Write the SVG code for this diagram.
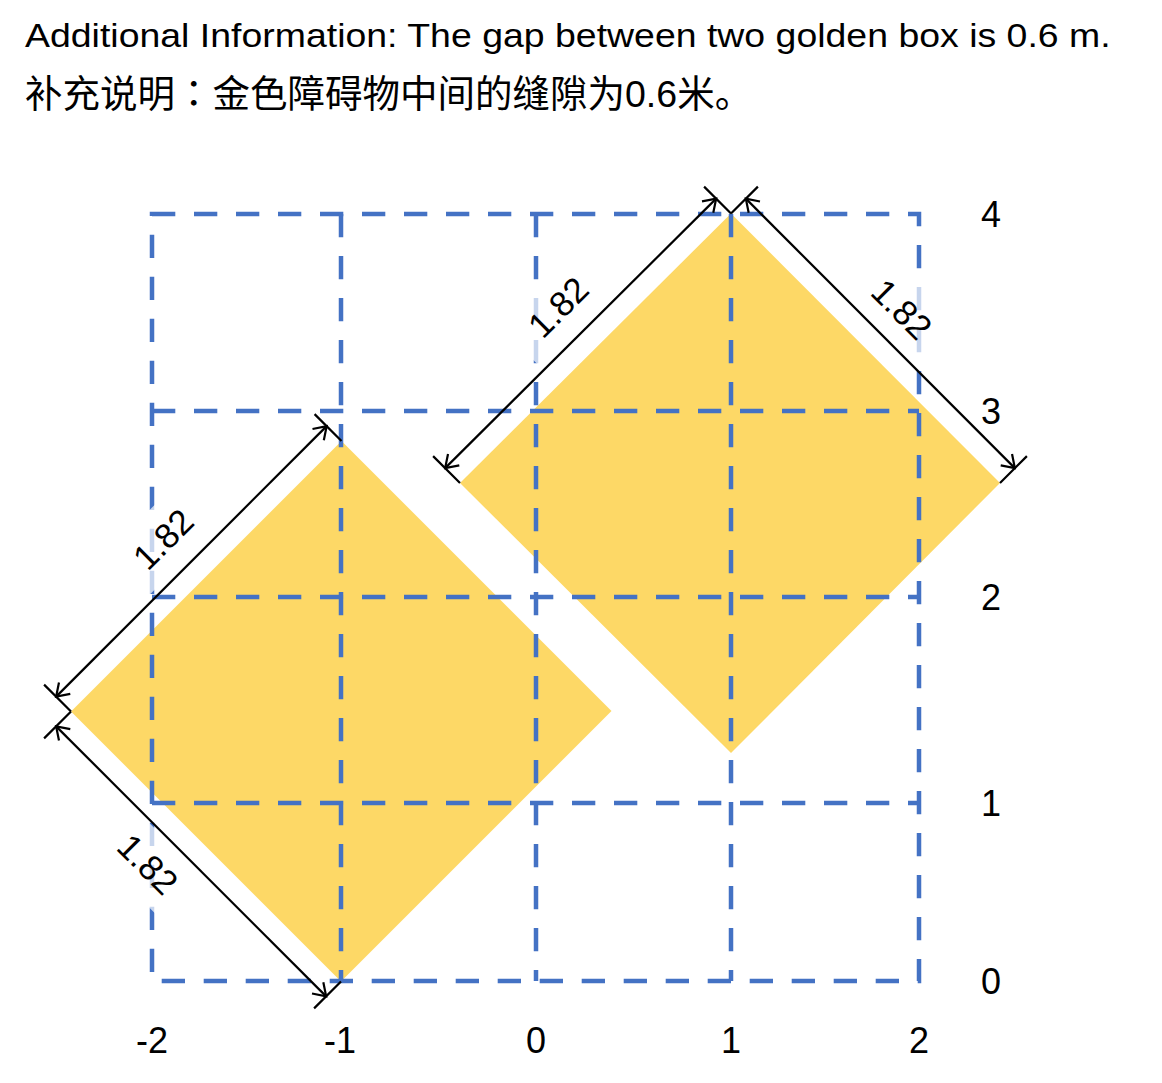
<svg xmlns="http://www.w3.org/2000/svg" width="1162" height="1083" viewBox="0 0 1162 1083">
<defs>
<style>
.t{font-family:"Liberation Sans",Arial,"Noto Sans CJK SC",sans-serif;fill:#000}
.ax{font-size:36px;text-anchor:middle}
.dl{font-size:35px;text-anchor:middle}
.gold{fill:#FDD866}
.grid{fill:none;stroke:#4472C4;stroke-width:4.5;stroke-dasharray:23.3 18.7}
.dim{stroke:#000;stroke-width:2.2;fill:none}
.lbg{fill:#fff;fill-opacity:0.7}
</style>
<marker id="ah" viewBox="-16 -10 18 20" refX="0" refY="0" markerWidth="18" markerHeight="20" markerUnits="userSpaceOnUse" orient="auto-start-reverse">
<path d="M-12,-8 L0,0 L-12,8" fill="none" stroke="#000" stroke-width="2.2"/>
</marker>
</defs>
<rect width="1162" height="1083" fill="#fff"/>
<g id="title">
<text class="t" x="0" y="0" font-size="33.5" transform="translate(25,47) scale(1.118,1)">Additional Information: The gap between two golden box is 0.6 m.</text>
<text class="t" x="25" y="107" font-size="37.5">补充说明<tspan font-family="'Noto Sans CJK JP',sans-serif">：</tspan>金色障碍物中间的缝隙为0.6米。</text>
</g>
<g id="box-left"><polygon class="gold" points="341.5,441 611.5,711 341,981.5 71,711.5"/></g>
<g id="box-right"><polygon class="gold" points="731,213.5 1000,483 731,753 460,483"/></g>
<g id="grid">
<rect class="grid" x="152" y="214" width="767" height="767"/>
<path class="grid" d="M152 411H919M152 597H919M152 803H919M341 214V981M536 214V981M731 214V981"/>
</g>
<g id="label-bg">
<rect class="lbg" x="-55" y="-30" width="110" height="60" transform="translate(558,307) rotate(-45)"/>
<rect class="lbg" x="-55" y="-30" width="110" height="60" transform="translate(902,309) rotate(45)"/>
<rect class="lbg" x="-55" y="-30" width="110" height="60" transform="translate(163,539) rotate(-45)"/>
<rect class="lbg" x="-55" y="-30" width="110" height="60" transform="translate(148,864) rotate(45)"/>
</g>
<g id="connectors">
<path class="dim" d="M731 213.5L704.1 186.6M460 483L433.1 456.1M731 213.5L757.9 186.6M1000 483L1026.9 456.1M341.5 441L314.6 414.1M71 711.5L44.1 684.6M71 711.5L44.1 738.4M341 981.5L314.1 1008.4"/>
<line class="dim" x1="445.15" y1="468.15" x2="716.15" y2="198.65" marker-start="url(#ah)" marker-end="url(#ah)"/>
<line class="dim" x1="745.85" y1="198.65" x2="1014.85" y2="468.15" marker-start="url(#ah)" marker-end="url(#ah)"/>
<line class="dim" x1="56.15" y1="696.65" x2="326.65" y2="426.15" marker-start="url(#ah)" marker-end="url(#ah)"/>
<line class="dim" x1="56.15" y1="726.35" x2="326.15" y2="996.35" marker-start="url(#ah)" marker-end="url(#ah)"/>
</g>
<g id="dim-labels">
<text class="t dl" x="0" y="12.5" transform="translate(558,307) rotate(-45)">1.82</text>
<text class="t dl" x="0" y="12.5" transform="translate(902,309) rotate(45)">1.82</text>
<text class="t dl" x="0" y="12.5" transform="translate(163,539) rotate(-45)">1.82</text>
<text class="t dl" x="0" y="12.5" transform="translate(148,864) rotate(45)">1.82</text>
</g>
<g id="axis-y">
<text class="t ax" x="991" y="227">4</text>
<text class="t ax" x="991" y="424">3</text>
<text class="t ax" x="991" y="610">2</text>
<text class="t ax" x="991" y="816">1</text>
<text class="t ax" x="991" y="994">0</text>
</g>
<g id="axis-x">
<text class="t ax" x="152" y="1053">-2</text>
<text class="t ax" x="340" y="1053">-1</text>
<text class="t ax" x="536" y="1053">0</text>
<text class="t ax" x="731" y="1053">1</text>
<text class="t ax" x="919" y="1053">2</text>
</g>
</svg>
